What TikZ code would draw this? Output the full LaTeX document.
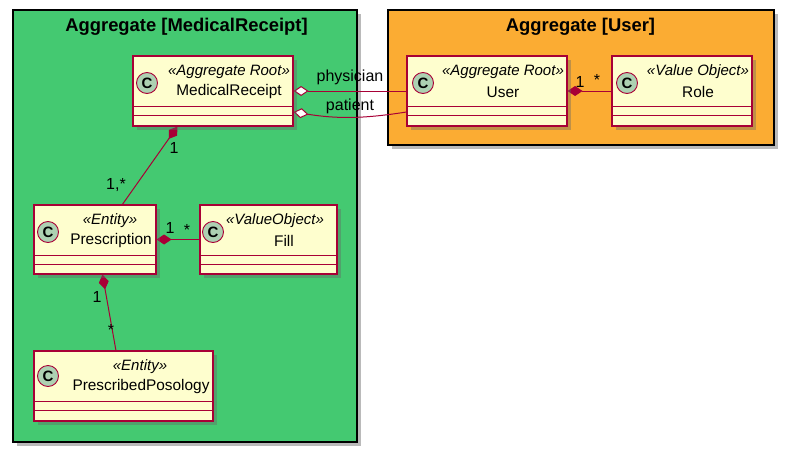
\documentclass[tikz,border=0pt]{standalone}
\usepackage{fontspec}
\setmainfont{Liberation Sans}
\usetikzlibrary{arrows.meta,shadows}
\definecolor{frameGreen}{RGB}{68,201,113}
\definecolor{frameOrange}{RGB}{251,172,51}
\definecolor{classFill}{HTML}{FEFECE}
\definecolor{classLine}{HTML}{A80036}
\definecolor{spotFill}{HTML}{ADD1B2}
\pgfdeclarelayer{framelayer}
\pgfdeclarelayer{edgelayer}
\pgfdeclarelayer{nodelayer}
\pgfsetlayers{framelayer,edgelayer,nodelayer,main}
\tikzstyle{none} = []
\tikzstyle{Frame}=[draw=black, line width=1.6pt, shape=rectangle, inner sep=0pt, drop shadow={shadow xshift=4pt, shadow yshift=-4pt, fill=black!60, opacity=0.45}]
\tikzstyle{Frame Green}=[Frame, fill=frameGreen]
\tikzstyle{Frame Orange}=[Frame, fill=frameOrange]
\tikzstyle{Frame Title}=[font=\bfseries\fontsize{18.4}{20}\selectfont, inner sep=0pt]
\tikzstyle{Class}=[draw=classLine, fill=classFill, line width=1.2pt, shape=rectangle, inner sep=0pt, drop shadow={shadow xshift=4pt, shadow yshift=-4pt, fill=black!60, opacity=0.4}]
\tikzstyle{Class Bar}=[-, draw=classLine, line width=1.1pt]
\tikzstyle{Spot}=[shape=circle, draw=classLine, fill=spotFill, line width=0.9pt, minimum size=21pt, inner sep=0pt, font=\bfseries\fontsize{15}{15}\selectfont]
\tikzstyle{Stereo}=[font=\itshape\fontsize{15}{17}\selectfont, inner sep=0pt]
\tikzstyle{Name}=[font=\fontsize{15.4}{17}\selectfont, inner sep=0pt]
\tikzstyle{Mult}=[font=\fontsize{16}{18}\selectfont, inner sep=0pt]
\tikzstyle{Aggregation}=[-, draw=classLine, line width=1pt, {Diamond[fill=white, length=15pt, width=10pt]}-]
\tikzstyle{Composition}=[-, draw=classLine, line width=1pt, {Diamond[fill=classLine, length=15pt, width=10pt]}-]

\begin{document}
\begin{tikzpicture}[x=1pt, y=-1pt]
	\useasboundingbox (0,0) rectangle (788,453);
	\begin{pgfonlayer}{framelayer}
		\node [style=Frame Green, minimum width=344pt, minimum height=432pt] (receiptframe) at (185,226) {};
		\node [style=Frame Orange, minimum width=386pt, minimum height=135pt] (userframe) at (581,77.5) {};
		\node [style=Frame Title] (receipttitle) at (186.5,27) {Aggregate [MedicalReceipt]};
		\node [style=Frame Title] (usertitle) at (580.5,27) {Aggregate [User]};
	\end{pgfonlayer}
	\begin{pgfonlayer}{nodelayer}
		\node [style=Class, minimum width=160pt, minimum height=70pt] (mr) at (213,91) {};
		\node [style=Class, minimum width=160pt, minimum height=70pt] (user) at (487,91) {};
		\node [style=Class, minimum width=140pt, minimum height=70pt] (role) at (682,91) {};
		\node [style=Class, minimum width=122pt, minimum height=69pt] (pr) at (95,239.5) {};
		\node [style=Class, minimum width=137pt, minimum height=69pt] (fill) at (268.5,239.5) {};
		\node [style=Class, minimum width=179pt, minimum height=70pt] (pp) at (123.5,386) {};
		\foreach \c in {mr,user,role,pr,fill,pp} {
			\draw [style=Class Bar] ([yshift=-51pt]\c.north west) to ([yshift=-51pt]\c.north east);
			\draw [style=Class Bar] ([yshift=-60pt]\c.north west) to ([yshift=-60pt]\c.north east);
		}
		\node [style=Spot] (mrspot) at (147,83) {C};
		\node [style=Spot] (userspot) at (423,83) {C};
		\node [style=Spot] (rolespot) at (627,83) {C};
		\node [style=Spot] (prspot) at (48,232) {C};
		\node [style=Spot] (fillspot) at (213,232) {C};
		\node [style=Spot] (ppspot) at (48,376) {C};
		\node [style=Stereo] (mrstereo) at (229,72) {«Aggregate Root»};
		\node [style=Name] (mrname) at (229,92) {MedicalReceipt};
		\node [style=Stereo] (userstereo) at (503,72) {«Aggregate Root»};
		\node [style=Name] (username) at (503,92) {User};
		\node [style=Stereo] (rolestereo) at (698,72) {«Value Object»};
		\node [style=Name] (rolename) at (698,92) {Role};
		\node [style=Stereo] (prstereo) at (110,221) {«Entity»};
		\node [style=Name] (prname) at (111,241) {Prescription};
		\node [style=Stereo] (fillstereo) at (275,221) {«ValueObject»};
		\node [style=Name] (fillname) at (284,241) {Fill};
		\node [style=Stereo] (ppstereo) at (140,367) {«Entity»};
		\node [style=Name] (ppname) at (141,387) {PrescribedPosology};
		\node [style=Mult] (m0) at (350,77) {physician};
		\node [style=Mult] (m1) at (350,106) {patient};
		\node [style=Mult] (m2) at (580,82) {1};
		\node [style=Mult] (m3) at (597,80) {*};
		\node [style=Mult] (m4) at (174,148) {1};
		\node [style=Mult] (m5) at (116,185) {1,*};
		\node [style=Mult] (m6) at (170,228) {1};
		\node [style=Mult] (m7) at (187,230) {*};
		\node [style=Mult] (m8) at (97,297) {1};
		\node [style=Mult] (m9) at (111,330) {*};
	\end{pgfonlayer}
	\begin{pgfonlayer}{edgelayer}
		\draw [style=Aggregation] (mr.east) to (user.west);
		\draw [style=Aggregation, bend right=9] ([yshift=-21pt]mr.east) to ([yshift=-21pt]user.west);
		\draw [style=Composition] (user.east) to (role.west);
		\draw [style=Composition] (mr.225) to (pr.52);
		\draw [style=Composition] (pr.east) to (fill.west);
		\draw [style=Composition] (pr.-78) to (pp.102);
	\end{pgfonlayer}
\end{tikzpicture}
\end{document}
